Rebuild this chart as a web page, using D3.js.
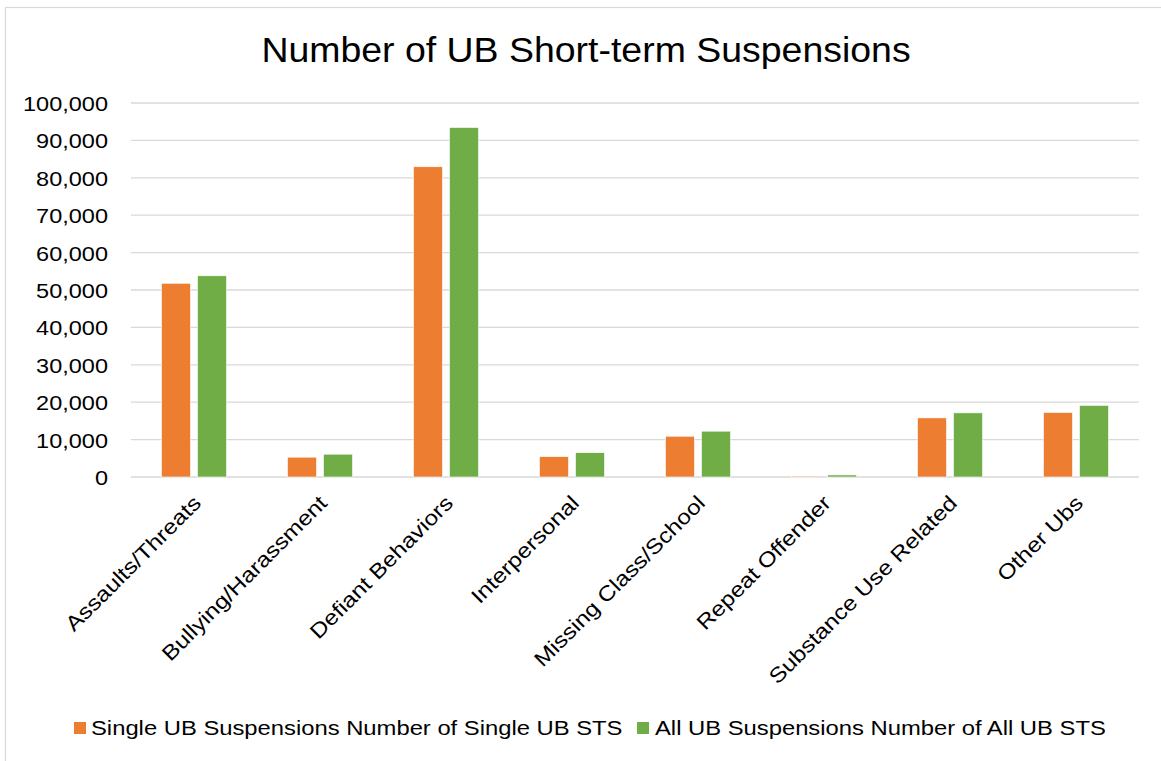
<!DOCTYPE html>
<html>
<head>
<meta charset="utf-8">
<script src="https://cdn.jsdelivr.net/npm/d3@7"></script>
<style>
  html, body { margin: 0; padding: 0; background: #fff; }
  svg { display: block; font-family: "Liberation Sans", Arial, sans-serif; }
</style>
</head>
<body>
<svg id="chart" width="1161" height="761"></svg>
<script>
const title = "Number of UB Short-term Suspensions";
const categories = ["Assaults/Threats", "Bullying/Harassment", "Defiant Behaviors", "Interpersonal",
  "Missing Class/School", "Repeat Offender", "Substance Use Related", "Other Ubs"];
const seriesNames = ["Single UB Suspensions Number of Single UB STS", "All UB Suspensions Number of All UB STS"];
const singleValues = [51800, 5300, 82950, 5450, 10900, 250, 15800, 17250];
const allValues = [53800, 6100, 93450, 6500, 12250, 550, 17150, 19150];
const yTicks = [0, 10000, 20000, 30000, 40000, 50000, 60000, 70000, 80000, 90000, 100000];
const colors = ["#ED7D31", "#70AD47"];

const svg = d3.select("#chart");
const W = 1161, H = 761;
const FONT = "Liberation Sans, Arial, sans-serif";

// outer chart border
svg.append("rect").attr("x", 5.5).attr("y", 7.5).attr("width", W + 10).attr("height", H + 10)
  .attr("fill", "#fff").attr("stroke", "#d9d9d9").attr("stroke-width", 1.2);

const plotL = 131, plotR = 1139, plotT = 103, plotB = 477;

const x0 = d3.scaleBand().domain(categories).range([plotL, plotR]).paddingInner(0.484).paddingOuter(0.242);
const x1 = d3.scaleBand().domain([0, 1]).range([0, x0.bandwidth()]).paddingInner(7 / 36);
const y = d3.scaleLinear().domain([0, 100000]).range([plotB, plotT]);

// gridlines
svg.append("g").selectAll("line").data(yTicks).join("line")
  .attr("x1", plotL).attr("x2", plotR)
  .attr("y1", d => y(d)).attr("y2", d => y(d))
  .attr("stroke", "#d9d9d9").attr("stroke-width", 1.3);

// y axis labels
const yAxis = d3.axisLeft(y).tickValues(yTicks).tickFormat(d3.format(",")).tickSize(0).tickPadding(0);
const ya = svg.append("g").attr("transform", `translate(108,0)`).call(yAxis);
ya.select(".domain").remove();
ya.selectAll("text").attr("font-size", 21).attr("fill", "#000").attr("font-family", FONT)
  .attr("x", 0).attr("dy", "0.36em").attr("transform", "scale(1.12,1)");

// bars
const data = categories.map((c, i) => ({ c, v: [singleValues[i], allValues[i]] }));
const groups = svg.append("g").selectAll("g").data(data).join("g")
  .attr("transform", d => `translate(${x0(d.c)},0)`);
groups.selectAll("rect").data(d => d.v.map((v, k) => ({ v, k }))).join("rect")
  .attr("x", d => x1(d.k)).attr("width", x1.bandwidth())
  .attr("y", d => y(d.v)).attr("height", d => y(0) - y(d.v))
  .attr("fill", d => colors[d.k])
  .attr("stroke", "#fff").attr("stroke-width", 0.6);

// x axis category labels
const xAxis = d3.axisBottom(x0).tickSize(0).tickPadding(0);
const xa = svg.append("g").attr("transform", `translate(0,${plotB})`).call(xAxis);
xa.select(".domain").remove();
xa.selectAll("text")
  .attr("font-size", 21).attr("fill", "#000").attr("font-family", FONT)
  .attr("text-anchor", "end")
  .attr("transform", "translate(3,22) rotate(-45) scale(1.16,1)")
  .attr("x", 0).attr("y", 0).attr("dy", "0.36em");

// title
svg.append("text").attr("transform", "translate(586,62) scale(1.07,1)").attr("text-anchor", "middle")
  .attr("font-size", 35).attr("fill", "#000").attr("font-family", FONT).text(title);

// legend
const legendItems = [{ x: 74, tx: 91 }, { x: 637, tx: 655 }];
const lg = svg.append("g");
seriesNames.forEach((n, i) => {
  lg.append("rect").attr("x", legendItems[i].x).attr("y", 722).attr("width", 12).attr("height", 12).attr("fill", colors[i]);
  lg.append("text").attr("transform", `translate(${legendItems[i].tx},735) scale(1.19,1)`)
    .attr("font-size", 20).attr("fill", "#000").attr("font-family", FONT).text(n);
});
</script>
</body>
</html>
